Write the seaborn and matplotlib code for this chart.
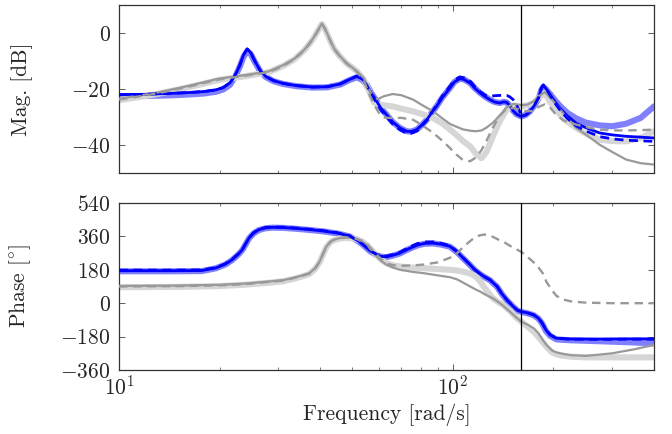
import numpy as np
import pandas as pd
import matplotlib
matplotlib.use("Agg")
import matplotlib.pyplot as plt
import seaborn as sns
from matplotlib.ticker import FixedLocator, LogLocator, NullFormatter

# ---------------- data ----------------
# Magnitude [dB], blue family (solid, dashed, thick light)
blue_mag_f = [10, 12, 14, 16, 18, 19.5, 20.5, 21.5, 22.3, 23, 23.6, 24.2, 24.8, 25.5, 26.5,
              27.5, 29, 31, 34, 38, 42, 46, 49, 51.6, 53.5, 55.2, 57, 59.1, 61, 63.3, 66,
              69.4, 72.6, 75, 77.9, 80.5, 83.5, 86, 89.3, 93, 98, 101, 104.9, 108, 112.7,
              116, 120.6, 125, 129, 133, 138, 142, 145, 148, 151.5, 155, 160, 165, 170, 175,
              180.5, 184, 186.4, 189, 195.5, 202, 209, 220, 234, 250, 275, 300, 330, 365, 400]
blue_mag = [-22.0, -21.9, -21.6, -21.3, -20.9, -20.3, -19.5, -17.8, -15.0, -11.5, -7.8, -5.7,
            -7.0, -10.0, -13.5, -15.5, -17.0, -18.0, -18.8, -19.3, -19.2, -18.2, -16.6, -15.5,
            -16.5, -18.5, -21.5, -24.4, -27.0, -29.2, -31.8, -33.9, -35.1, -35.2, -34.5,
            -33.0, -31.0, -28.8, -26.2, -23.0, -19.6, -17.5, -16.3, -16.6, -17.9, -19.6,
            -21.4, -22.8, -23.8, -24.6, -25.0, -24.6, -24.8, -26.0, -27.8, -29.0, -29.8,
            -29.3, -28.0, -26.0, -23.2, -19.8, -18.8, -19.5, -22.0, -24.5, -26.8, -29.6,
            -32.2, -33.8, -35.7, -36.4, -36.9, -37.2, -37.5]
blue_dash_mag = [-22.0, -21.9, -21.6, -21.3, -20.9, -20.3, -19.5, -17.8, -15.0, -11.5, -7.8,
                 -5.7, -7.0, -10.0, -13.5, -15.5, -17.0, -18.0, -18.8, -19.3, -19.2, -18.2,
                 -16.6, -15.3, -16.5, -18.8, -22.0, -25.0, -27.6, -30.0, -32.5, -34.6, -35.8,
                 -35.8, -35.0, -33.4, -31.2, -28.8, -25.8, -22.5, -19.0, -16.8, -15.7, -16.0,
                 -17.3, -19.0, -21.0, -22.2, -22.6, -22.4, -22.3, -22.2, -22.3, -22.8, -23.8,
                 -25.8, -29.0, -29.3, -28.2, -26.0, -23.0, -19.5, -18.5, -19.3, -22.3, -25.0,
                 -27.5, -30.5, -33.2, -35.0, -37.0, -37.8, -38.3, -38.5, -38.7]
lblue_mag = [-22.6, -22.5, -22.3, -22.0, -21.6, -21.0, -20.2, -18.5, -15.5, -12.0, -8.5, -6.5,
             -7.5, -10.3, -13.7, -15.7, -17.2, -18.2, -19.0, -19.5, -19.4, -18.4, -16.8,
             -15.8, -16.8, -18.5, -21.5, -24.4, -27.0, -29.2, -31.8, -33.9, -35.1, -35.2,
             -34.5, -33.0, -31.0, -28.8, -26.2, -23.0, -19.6, -17.5, -16.3, -16.6, -17.9,
             -19.6, -21.4, -22.8, -23.8, -24.6, -25.0, -24.6, -24.8, -26.0, -27.8, -29.0,
             -29.8, -29.3, -28.0, -26.0, -23.4, -20.3, -19.3, -19.8, -21.8, -24.0, -26.0,
             -28.5, -30.5, -32.0, -33.0, -33.3, -32.4, -30.3, -26.2]

# Magnitude [dB], gray family (solid, thick light, dashed)
gray_mag_f = [10, 13, 16, 19.9, 24, 28.1, 31, 33.5, 36, 38, 39.5, 40.5, 41.3, 42.5, 44, 46,
              48, 51.6, 54, 56, 58, 60, 62, 66, 70, 76, 81, 87.3, 93, 98, 102.6, 107, 112.6,
              117, 121.8, 126, 131.6, 138, 145, 152, 160, 167, 174.5, 181, 188.5, 195, 204,
              215, 234, 255, 275, 300, 330, 365, 400]
gray_mag = [-23.5, -21.3, -19.0, -16.3, -15.0, -13.7, -11.5, -9.2, -5.8, -2.2, 1.2, 3.4, 1.8,
            -1.5, -5.4, -8.4, -10.7, -13.7, -16.0, -19.8, -23.8, -23.5, -22.6, -21.8, -22.2,
            -23.8, -25.8, -28.0, -30.5, -32.5, -33.5, -34.4, -34.9, -35.1, -34.8, -33.8,
            -32.1, -29.5, -26.5, -25.3, -25.8, -25.6, -24.4, -22.5, -21.1, -23.0, -25.6,
            -29.0, -33.9, -37.0, -39.9, -42.5, -45.2, -46.5, -47.0]
lgray_mag = [-24.0, -21.8, -19.5, -16.8, -15.4, -14.0, -11.8, -9.4, -6.0, -2.4, 1.0, 3.2, 1.6,
             -1.7, -5.6, -8.5, -10.8, -13.7, -16.5, -20.5, -24.8, -25.6, -25.8, -26.2, -27.0,
             -28.0, -29.0, -30.4, -32.3, -34.5, -36.5, -38.5, -40.5, -43.0, -44.7, -42.5,
             -37.0, -31.6, -27.2, -26.0, -26.2, -25.8, -25.0, -23.0, -21.4, -24.5, -27.5,
             -30.8, -33.9, -36.5, -38.1, -38.6, -38.7, -37.5, -35.1]
dgray_mag = [-23.8, -21.6, -19.3, -16.6, -15.2, -14.0, -11.8, -9.4, -6.0, -2.4, 1.0, 3.2, 1.6,
             -1.7, -5.6, -8.6, -10.9, -13.9, -16.8, -21.5, -25.5, -28.5, -30.2, -30.4, -30.3,
             -31.0, -33.0, -35.7, -38.5, -41.1, -43.5, -45.3, -45.8, -44.5, -41.8, -38.5,
             -33.9, -29.5, -27.0, -26.8, -27.5, -28.0, -27.8, -26.3, -25.5, -26.5, -29.3,
             -31.3, -32.7, -33.8, -34.5, -34.8, -34.8, -34.7, -34.5]

# Phase [deg], blue family
blue_ph_f = [10, 14, 17.7, 19.5, 20.8, 21.8, 22.7, 23.4, 24, 24.5, 25.3, 26.2, 27.5, 28.8, 31,
             34.5, 38, 40.9, 45, 49.1, 52, 53.9, 56.5, 59.1, 61, 63.3, 66, 69.4, 73, 77.9, 82,
             87.3, 92, 98, 103, 107.4, 112.6, 116, 120.6, 125, 129, 135.6, 140, 145, 151.6,
             156, 160, 167, 174.5, 180, 184.7, 190, 195.5, 204, 225, 275, 330, 400]
blue_ph = [175, 175, 176, 190, 210, 234, 262, 288, 322, 351, 378, 396, 406, 409, 408, 402, 395,
           389, 378, 362, 336, 315, 282, 261, 252, 250, 258, 270, 290, 312, 322, 324, 318, 306,
           276, 243, 207, 182, 158, 140, 126, 90, 52, 18, -18, -38, -45, -52, -63, -80, -105,
           -145, -171, -189, -193, -193, -192, -192]
blue_dash_ph = [178, 178, 179, 192, 212, 236, 264, 290, 324, 353, 380, 398, 408, 411, 410, 404,
                397, 391, 380, 362, 336, 315, 284, 263, 255, 254, 262, 275, 296, 320, 330, 330,
                323, 310, 278, 243, 207, 182, 158, 140, 126, 90, 52, 18, -18, -38, -45, -52,
                -63, -80, -105, -145, -171, -189, -194, -195, -194, -194]
lblue_ph = [172, 172, 173, 188, 208, 232, 260, 286, 320, 349, 376, 394, 404, 407, 406, 400, 393,
            387, 376, 360, 334, 313, 280, 259, 250, 248, 256, 268, 288, 310, 320, 322, 316, 304,
            274, 241, 205, 180, 156, 138, 124, 88, 50, 16, -20, -40, -47, -54, -65, -82, -108,
            -150, -176, -195, -200, -205, -210, -216]

# Phase [deg], gray family
gray_ph_f = [10, 15, 19.9, 24, 28.1, 31, 33.5, 35.5, 37.2, 38.7, 39.9, 40.8, 41.8, 43, 43.9,
             46, 47.9, 50, 51.6, 53.5, 55.2, 57, 59.1, 61, 63.3, 66, 69.4, 75, 81.6, 90, 98,
             103, 107, 112.6, 117, 120.6, 124, 127, 131.6, 137, 141, 148, 155, 160, 167, 174.5,
             180, 186, 190.5, 198, 204, 212, 225, 250, 300, 350, 400]
gray_ph = [93, 95, 99, 106, 117, 124, 138, 150, 162, 190, 225, 265, 306, 332, 342, 352, 355,
           352, 346, 332, 315, 285, 252, 228, 207, 192, 180, 170, 162, 150, 140, 128, 112, 90,
           74, 63, 50, 40, 27, 5, -12, -45, -78, -99, -115, -135, -160, -200, -225, -255, -265,
           -272, -280, -284, -270, -248, -225]
lgray_ph = [86, 88, 92, 100, 110, 118, 132, 145, 158, 186, 222, 262, 303, 329, 339, 349, 352,
            349, 344, 332, 315, 288, 258, 234, 215, 205, 198, 192, 189, 184, 180, 176, 170, 160,
            145, 118, 86, 62, 27, 5, -8, -40, -78, -99, -125, -153, -180, -212, -234, -265,
            -275, -283, -288, -292, -292, -292, -292]
dgray_ph = [90, 92, 96, 103, 115, 122, 136, 148, 160, 188, 224, 264, 305, 331, 340, 351, 354,
            351, 346, 335, 320, 292, 262, 238, 214, 205, 202, 203, 208, 220, 245, 270, 300, 335,
            358, 366, 370, 368, 358, 342, 333, 310, 290, 277, 250, 220, 195, 160, 115, 70, 40,
            22, 10, 3, 0, 0, 0]

f_cut = 160
x_lim = (10, 400)
mag_lim = (-50, 10)
ph_lim = (-360, 540)
mag_ticks = [0, -20, -40]
ph_ticks = [-360, -180, 0, 180, 360, 540]

# ---------------- styling ----------------
sns.set_style("ticks")
plt.rcParams["font.family"] = ["cmr10", "DejaVu Serif"]
plt.rcParams["mathtext.fontset"] = "cm"
plt.rcParams["axes.formatter.use_mathtext"] = True
plt.rcParams["axes.unicode_minus"] = True
FS = 15.5

C_LBLUE = "#8080ff"
C_BLUE = "#0000ff"
C_LGRAY = "#d6d6d6"
C_GRAY = "#999999"

fig = plt.figure(figsize=(6.72, 4.34), dpi=100)
ax1 = fig.add_axes([119 / 672, 1 - 173 / 434, 535 / 672, 168 / 434])
ax2 = fig.add_axes([119 / 672, 1 - 370 / 434, 535 / 672, 167 / 434])


def draw(ax, f, y, color, lw, dashes=None, z=2):
    df = pd.DataFrame({"f": f, "y": y})
    sns.lineplot(data=df, x="f", y="y", ax=ax, color=color, lw=lw, estimator=None,
                 sort=False, zorder=z, legend=False)
    ln = ax.lines[-1]
    ln.set_solid_capstyle("round")
    ln.set_solid_joinstyle("round")
    if dashes is not None:
        ln.set_dashes(dashes)
        ln.set_dash_capstyle("butt")


# magnitude
draw(ax1, blue_mag_f, lblue_mag, C_LBLUE, 4.4, z=2)
draw(ax1, gray_mag_f, lgray_mag, C_LGRAY, 4.4, z=2.1)
draw(ax1, blue_mag_f, blue_mag, C_BLUE, 2.0, z=3)
draw(ax1, gray_mag_f, gray_mag, C_GRAY, 1.6, z=3.1)
draw(ax1, blue_mag_f, blue_dash_mag, C_BLUE, 2.0, dashes=(3.2, 2.0), z=4)
draw(ax1, gray_mag_f, dgray_mag, C_GRAY, 1.7, dashes=(3.6, 2.4), z=4.1)

# phase
draw(ax2, blue_ph_f, lblue_ph, C_LBLUE, 4.4, z=2)
draw(ax2, gray_ph_f, lgray_ph, C_LGRAY, 4.4, z=2.1)
draw(ax2, blue_ph_f, blue_ph, C_BLUE, 2.0, z=3)
draw(ax2, gray_ph_f, gray_ph, C_GRAY, 1.6, z=3.1)
draw(ax2, blue_ph_f, blue_dash_ph, C_BLUE, 2.0, dashes=(3.2, 2.0), z=4)
draw(ax2, gray_ph_f, dgray_ph, C_GRAY, 1.7, dashes=(3.6, 2.4), z=4.1)

for ax in (ax1, ax2):
    ax.set_xscale("log")
    ax.set_xlim(*x_lim)
    ax.axvline(f_cut, color="black", lw=0.9, zorder=5)
    ax.xaxis.set_major_locator(LogLocator(base=10, numticks=10))
    ax.xaxis.set_minor_locator(LogLocator(base=10, subs=np.arange(2, 10), numticks=20))
    ax.xaxis.set_minor_formatter(NullFormatter())
    ax.tick_params(which="both", direction="in", top=True, right=True,
                   color="#444444", labelsize=FS)
    ax.tick_params(axis="y", pad=6)
    ax.tick_params(axis="x", pad=3)
    ax.tick_params(which="major", length=4.2, width=0.6)
    ax.tick_params(which="minor", length=2.4, width=0.5)
    for s in ax.spines.values():
        s.set_color("#333333")
        s.set_linewidth(0.9)
    ax.set_xlabel("")

ax1.set_ylim(*mag_lim)
ax1.yaxis.set_major_locator(FixedLocator(mag_ticks))
ax1.tick_params(axis="x", labelbottom=False)
ax1.set_ylabel("Mag. [dB]", fontsize=FS)

ax2.set_ylim(*ph_lim)
ax2.yaxis.set_major_locator(FixedLocator(ph_ticks))
ax2.set_ylabel(r"Phase [$^{\circ}$]", fontsize=FS)
ax2.set_xlabel("Frequency [rad/s]", fontsize=FS, labelpad=4)

ax1.yaxis.set_label_coords(-0.160, 0.5)
ax2.yaxis.set_label_coords(-0.160, 0.5)

fig.savefig("out.png", dpi=100)
